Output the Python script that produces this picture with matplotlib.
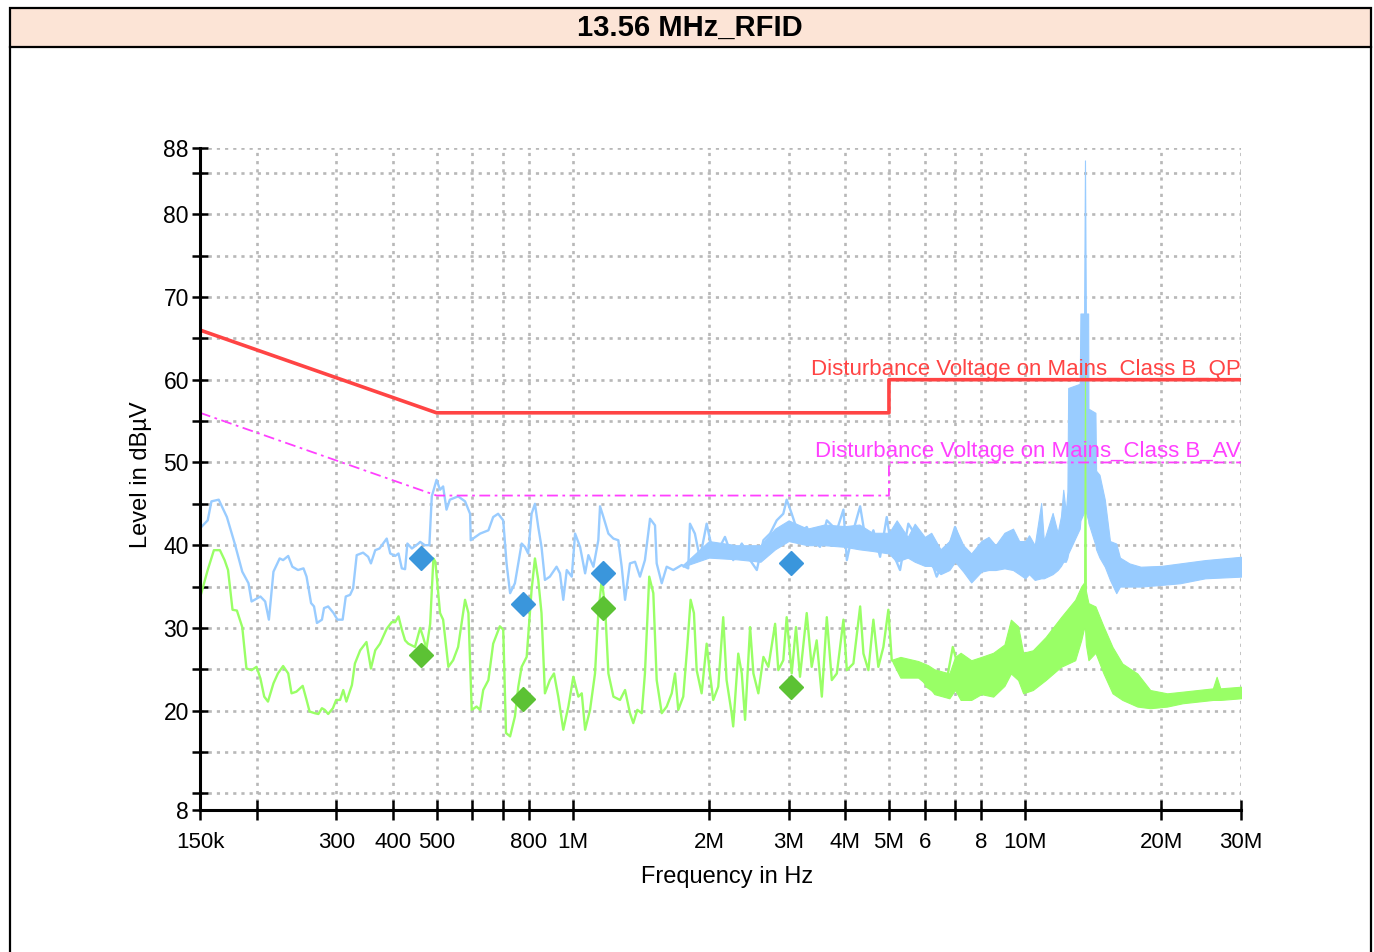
import matplotlib
matplotlib.use("Agg")
import matplotlib.pyplot as plt
from matplotlib.ticker import FixedLocator, FixedFormatter, NullLocator
from matplotlib.patches import Rectangle
from matplotlib.lines import Line2D
import numpy as np

plt.rcParams['font.family'] = ['Liberation Sans', 'DejaVu Sans']

# ---------------- data (frequencies in MHz, levels in dBuV) ----------------
title = "13.56 MHz_RFID"

qp_f = [0.15, 0.5, 5.0, 5.0, 30.0]
qp_v = [66.0, 56.0, 56.0, 60.0, 60.0]
av_f = [0.15, 0.5, 5.0, 5.0, 30.0]
av_v = [56.0, 46.0, 46.0, 50.0, 50.0]

peak_f = [0.151, 0.156, 0.159, 0.165, 0.172, 0.179, 0.186, 0.192, 0.195, 0.204,
          0.209, 0.213, 0.218, 0.225, 0.229, 0.235, 0.240, 0.247, 0.254, 0.258,
          0.264, 0.268, 0.272, 0.279, 0.282, 0.288, 0.296, 0.302, 0.310, 0.315,
          0.322, 0.327, 0.333, 0.344, 0.353, 0.358, 0.366, 0.374, 0.381, 0.388,
          0.395, 0.405, 0.412, 0.419, 0.426, 0.431, 0.441, 0.456, 0.460, 0.471,
          0.482, 0.488, 0.500, 0.509, 0.517, 0.526, 0.535, 0.558, 0.578, 0.593,
          0.595, 0.624, 0.651, 0.667, 0.684, 0.702, 0.714, 0.727, 0.745, 0.758,
          0.771, 0.784, 0.797, 0.811, 0.825, 0.839, 0.853, 0.868, 0.890, 0.921,
          0.937, 0.953, 0.970, 0.995, 1.012, 1.038, 1.065, 1.083, 1.111, 1.139,
          1.149, 1.169, 1.199, 1.230, 1.261, 1.283, 1.305, 1.338, 1.373, 1.408,
          1.444, 1.482, 1.520, 1.533, 1.573, 1.613, 1.668, 1.741, 1.800, 1.816,
          1.862, 1.910, 1.977, 2.028, 2.115, 2.170, 2.263, 2.364, 2.466, 2.552,
          2.639, 2.730, 2.824, 2.920, 2.971, 3.048, 3.152, 3.290, 3.402, 3.520,
          3.644, 3.835, 3.966, 4.035, 4.172, 4.318, 4.467, 4.619, 4.779, 4.944,
          5.071, 5.290, 5.518, 5.757, 6.058, 6.375, 6.711, 7.000, 7.302, 7.621,
          7.799]
peak_v = [42.2, 43.0, 45.3, 45.5, 43.4, 40.2, 36.8, 35.4, 33.2, 33.8,
          33.2, 31.0, 36.8, 38.4, 38.2, 38.7, 37.4, 37.0, 37.2, 36.2,
          33.0, 32.6, 30.6, 31.0, 32.4, 32.6, 31.8, 31.0, 31.0, 33.8,
          34.0, 34.8, 38.8, 39.1, 38.6, 37.8, 39.4, 39.6, 40.2, 40.8,
          39.0, 38.7, 39.0, 37.2, 37.1, 40.2, 39.6, 40.2, 40.4, 40.0,
          40.0, 45.9, 47.9, 46.7, 47.1, 44.3, 45.5, 45.9, 45.3, 43.8,
          40.6, 41.4, 41.8, 43.4, 43.8, 43.0, 37.8, 34.2, 35.4, 37.8,
          40.2, 39.8, 39.0, 43.8, 45.0, 42.2, 39.8, 35.8, 36.2, 37.4,
          36.6, 33.4, 37.0, 36.2, 41.4, 39.8, 36.6, 38.8, 37.4, 40.6,
          44.7, 43.4, 41.4, 40.8, 40.6, 37.4, 33.4, 37.8, 38.0, 36.2,
          38.2, 43.2, 42.4, 37.8, 35.4, 37.4, 37.0, 37.6, 37.2, 42.6,
          41.4, 38.4, 42.6, 39.8, 39.8, 41.0, 38.2, 40.2, 38.2, 37.0,
          40.6, 41.4, 43.0, 43.8, 45.5, 43.8, 41.4, 42.2, 40.6, 39.8,
          43.0, 41.8, 44.3, 38.2, 41.8, 44.7, 39.8, 41.8, 38.6, 43.4,
          39.4, 37.0, 42.6, 41.0, 39.8, 36.2, 39.0, 42.2, 39.0, 35.8,
          37.8]

peak_band_f = [1.75, 2.0, 2.3, 2.6, 2.8, 3.0, 3.3, 3.6, 4.0, 4.3,
               4.6, 5.0, 5.2, 5.5, 5.7, 6.0, 6.2, 6.5, 6.8, 7.0,
               7.3, 7.6, 8.0, 8.3, 8.6, 9.0, 9.4, 9.7, 10.0, 10.2,
               10.5, 10.85, 11.0, 11.5, 11.8, 12.0, 12.14, 12.3, 12.4, 12.45,
               13.2, 13.25, 13.5, 13.56, 13.62, 13.78, 13.8, 14.3, 14.35, 14.6,
               15.0, 15.4, 15.9, 16.2, 17.0, 18.0, 20.0, 22.0, 25.0, 30.0]
peak_band_lo = [37.4, 38.5, 38.3, 38.0, 39.5, 40.5, 40.0, 40.0, 39.8, 39.5,
                39.3, 39.0, 38.0, 38.5, 38.0, 37.5, 37.5, 36.5, 37.0, 38.0,
                36.8, 35.5, 36.8, 37.0, 37.0, 37.2, 37.0, 36.5, 36.0, 36.5,
                35.8, 36.0, 36.0, 36.5, 37.0, 37.5, 38.0, 38.0, 38.5, 39.0,
                42.0, 43.0, 44.0, 44.0, 44.0, 43.0, 42.7, 40.0, 39.5, 38.5,
                37.4, 35.8, 34.2, 35.0, 35.0, 35.0, 35.2, 35.4, 36.0, 36.2]
peak_band_hi = [37.6, 40.5, 40.0, 40.0, 42.0, 43.0, 42.0, 42.5, 42.3, 42.5,
                41.5, 41.5, 43.0, 41.0, 42.6, 41.0, 41.5, 39.5, 40.5, 42.2,
                40.0, 39.0, 40.5, 41.0, 40.0, 41.5, 42.0, 40.5, 40.5, 41.2,
                40.0, 45.1, 40.5, 43.9, 41.5, 43.5, 46.7, 44.0, 46.5, 59.0,
                59.5, 68.0, 68.0, 86.5, 68.0, 68.0, 56.5, 56.0, 49.0, 48.5,
                45.5, 40.5, 40.2, 38.5, 37.8, 37.4, 37.5, 37.8, 38.2, 38.6]

avg_f = [0.151, 0.156, 0.161, 0.166, 0.170, 0.173, 0.177, 0.181, 0.186, 0.190,
         0.195, 0.200, 0.204, 0.208, 0.212, 0.218, 0.223, 0.229, 0.235, 0.239,
         0.245, 0.253, 0.258, 0.262, 0.269, 0.274, 0.279, 0.283, 0.288, 0.295,
         0.300, 0.306, 0.311, 0.316, 0.325, 0.330, 0.339, 0.350, 0.358, 0.366,
         0.375, 0.388, 0.398, 0.405, 0.412, 0.419, 0.426, 0.433, 0.448, 0.460,
         0.467, 0.475, 0.484, 0.492, 0.497, 0.509, 0.517, 0.531, 0.544, 0.558,
         0.578, 0.588, 0.598, 0.613, 0.624, 0.634, 0.651, 0.667, 0.690, 0.702,
         0.712, 0.727, 0.745, 0.758, 0.771, 0.791, 0.811, 0.825, 0.839, 0.853,
         0.868, 0.890, 0.909, 0.929, 0.953, 0.978, 1.003, 1.029, 1.047, 1.065,
         1.092, 1.120, 1.139, 1.159, 1.179, 1.199, 1.230, 1.272, 1.305, 1.338,
         1.361, 1.389, 1.421, 1.444, 1.476, 1.507, 1.533, 1.573, 1.613, 1.655,
         1.683, 1.711, 1.755, 1.791, 1.822, 1.853, 1.879, 1.927, 1.977, 2.010,
         2.044, 2.097, 2.151, 2.188, 2.245, 2.263, 2.322, 2.364, 2.404, 2.466,
         2.508, 2.572, 2.639, 2.707, 2.801, 2.847, 2.920, 2.971, 3.048, 3.115,
         3.179, 3.290, 3.374, 3.461, 3.553, 3.644, 3.738, 3.835, 3.966, 4.035,
         4.172, 4.318, 4.391, 4.503, 4.619, 4.737, 4.860, 4.985, 5.071, 5.290,
         5.520, 5.760, 6.060, 6.380, 6.710, 6.920, 7.180, 7.550, 7.800]
avg_v = [34.2, 37.0, 39.4, 39.4, 38.2, 37.0, 32.2, 32.1, 30.1, 25.1,
         24.9, 25.3, 23.9, 21.7, 21.1, 23.3, 24.5, 25.4, 24.5, 22.1,
         22.3, 23.0, 21.3, 19.9, 19.7, 19.6, 20.3, 20.1, 19.6, 20.3,
         21.3, 21.3, 22.5, 21.1, 23.1, 25.7, 27.3, 28.3, 25.1, 27.3,
         28.1, 29.9, 30.7, 30.7, 31.4, 29.8, 28.5, 28.1, 27.7, 30.0,
         28.9, 27.5, 30.5, 38.4, 38.0, 31.8, 31.0, 25.3, 26.1, 27.7,
         33.4, 31.8, 20.1, 20.5, 20.1, 22.5, 23.7, 28.1, 30.2, 29.8,
         17.3, 16.9, 19.3, 22.9, 25.3, 26.5, 34.6, 38.4, 35.8, 31.8,
         22.1, 23.7, 24.5, 21.7, 17.7, 20.5, 24.1, 21.7, 22.1, 17.7,
         20.1, 24.5, 31.8, 35.8, 32.6, 24.5, 21.7, 21.3, 22.5, 19.7,
         18.5, 20.1, 19.7, 24.5, 36.2, 34.2, 23.7, 19.7, 20.5, 22.1,
         24.5, 20.1, 21.7, 27.7, 33.4, 31.8, 24.9, 22.1, 28.1, 24.5,
         21.3, 22.9, 31.3, 23.7, 19.7, 18.1, 26.9, 24.5, 18.9, 30.1,
         24.5, 22.1, 26.5, 25.3, 30.5, 24.9, 26.1, 31.3, 24.5, 30.1,
         24.1, 31.8, 25.3, 28.5, 21.7, 31.3, 23.7, 24.5, 31.0, 24.9,
         25.7, 32.6, 26.9, 24.9, 31.0, 25.3, 27.7, 32.2, 26.1, 25.3,
         24.1, 25.3, 22.9, 22.1, 23.7, 27.7, 24.5, 21.3, 25.3]

avg_band_f = [5.1, 5.3, 5.8, 6.1, 6.3, 6.8, 7.0, 7.2, 7.6, 8.0,
              8.5, 9.0, 9.3, 9.65, 9.9, 10.4, 11.1, 12.0, 12.9, 13.3,
              13.5, 13.56, 13.62, 13.8, 14.3, 14.9, 15.6, 16.4, 17.7, 18.9,
              20.6, 22.3, 26.0, 26.5, 27.0, 30.0]
avg_band_lo = [25.8, 24.0, 24.0, 23.0, 22.0, 21.5, 22.5, 21.3, 21.3, 22.0,
               21.7, 23.0, 24.5, 23.7, 22.1, 22.5, 23.7, 25.3, 26.1, 28.5,
               30.0, 30.0, 28.0, 26.1, 27.0, 24.5, 22.1, 21.3, 20.5, 20.3,
               20.5, 20.9, 21.3, 21.3, 21.3, 21.5]
avg_band_hi = [26.2, 26.5, 26.0, 25.5, 25.0, 24.5, 26.5, 27.0, 26.1, 26.5,
               27.0, 28.0, 31.0, 30.2, 27.0, 27.3, 28.9, 31.3, 33.4, 35.0,
               35.5, 60.5, 34.5, 33.0, 32.6, 30.2, 27.7, 25.7, 24.5, 22.5,
               22.1, 22.3, 22.7, 24.1, 22.7, 22.9]

final_f = [0.462, 0.776, 1.167, 3.04]
final_qp = [38.45, 32.9, 36.6, 37.85]
final_av = [26.7, 21.4, 32.4, 22.9]

xtick_f = [0.15, 0.2, 0.3, 0.4, 0.5, 0.6, 0.7, 0.8, 1, 2, 3, 4, 5, 6, 7, 8, 10, 20, 30]
xtick_labels = ['150k', '', '300', '400', '500', '', '', '800', '1M', '2M', '3M',
                '4M', '5M', '6', '', '8', '10M', '20M', '30M']
ytick_v = [8, 10, 15, 20, 25, 30, 35, 40, 45, 50, 55, 60, 65, 70, 75, 80, 85, 88]
ytick_labels = ['8', '', '', '20', '', '30', '', '40', '', '50', '', '60', '',
                '70', '', '80', '', '88']

qp_label = "Disturbance Voltage on Mains_Class B_QP"
av_label = "Disturbance Voltage on Mains_Class B_AV"

# ---------------- styling ----------------
C_PEAK = '#99ccff'
C_AVG = '#99ff66'
C_QP = '#ff4444'
C_AV = '#ff40ff'
C_MQP = '#3a96dc'
C_MAV = '#5cc234'

W, H = 1374, 952
fig = plt.figure(figsize=(W / 100, H / 100), dpi=100)


def fx(px):
    return px / W


def fy(py):
    return 1 - py / H


# outer frame and title bar
fig.add_artist(Rectangle((fx(10), fy(47)), fx(1371) - fx(10), fy(8) - fy(47),
                         transform=fig.transFigure, facecolor='#fce4d6',
                         edgecolor='black', linewidth=1.6))
fig.add_artist(Line2D([fx(10), fx(10)], [fy(47), 0], transform=fig.transFigure,
                      color='black', linewidth=1.6))
fig.add_artist(Line2D([fx(1371), fx(1371)], [fy(47), 0], transform=fig.transFigure,
                      color='black', linewidth=1.6))
fig.text(fx(690), fy(28), title, ha='center', va='center', fontsize=21,
         fontweight='bold', color='black')

ax = fig.add_axes([fx(200), fy(810), fx(1241) - fx(200), fy(148) - fy(810)])

hz = lambda arr: np.asarray(arr) * 1e6

# traces
ax.fill_between(hz(peak_band_f), peak_band_lo, peak_band_hi, color=C_PEAK,
                linewidth=0.8, edgecolor=C_PEAK, zorder=2)
ax.plot(hz(peak_f), peak_v, color=C_PEAK, linewidth=1.7, zorder=2)
ax.fill_between(hz(avg_band_f), avg_band_lo, avg_band_hi, color=C_AVG,
                linewidth=0.8, edgecolor=C_AVG, zorder=3)
ax.plot(hz(avg_f), avg_v, color=C_AVG, linewidth=1.7, zorder=3)

# limit lines
ax.plot(hz(qp_f), qp_v, color=C_QP, linewidth=2.6, zorder=4)
ax.plot(hz(av_f), av_v, color=C_AV, linewidth=1.3,
        linestyle=(0, (6, 2.5, 1.5, 2.5)), zorder=4)
ax.text(30e6, 60.55, qp_label, color=C_QP, fontsize=16, ha='right',
        va='baseline', zorder=5)
ax.text(30e6, 50.6, av_label, color=C_AV, fontsize=16, ha='right',
        va='baseline', zorder=5)

# final measurement markers
ax.plot(hz(final_f), final_qp, linestyle='none', marker='D', markersize=12,
        color=C_MQP, zorder=6)
ax.plot(hz(final_f), final_av, linestyle='none', marker='D', markersize=12,
        color=C_MAV, zorder=6)

# axes
ax.set_xscale('log')
ax.set_xlim(0.15e6, 30e6)
ax.set_ylim(8, 88)
ax.xaxis.set_major_locator(FixedLocator(hz(xtick_f)))
ax.xaxis.set_major_formatter(FixedFormatter(xtick_labels))
ax.xaxis.set_minor_locator(NullLocator())
ax.yaxis.set_major_locator(FixedLocator(ytick_v))
ax.yaxis.set_major_formatter(FixedFormatter(ytick_labels))
ax.yaxis.set_minor_locator(NullLocator())

for s in ['top', 'right']:
    ax.spines[s].set_visible(False)
for s in ['left', 'bottom']:
    ax.spines[s].set_linewidth(2.2)
    ax.spines[s].set_zorder(7)

ax.tick_params(axis='x', direction='inout', length=15, width=1.8, pad=8.5,
               labelsize=16)
ax.tick_params(axis='y', direction='inout', length=12, width=1.8, pad=2,
               labelsize=16.5)

ax.set_axisbelow(True)
ax.grid(True, which='major', color='#b8b8b8', linewidth=1.9,
        linestyle=(0, (1.2, 1.9)))

ax.set_xlabel('Frequency in Hz', fontsize=17)
ax.xaxis.set_label_coords((727 - 200) / 1041, -(877 - 810) / 662)
ax.xaxis.label.set_verticalalignment('center')
ax.set_ylabel('Level in dBµV', fontsize=17)
ax.yaxis.set_label_coords((141 - 200) / 1041, (810 - 475) / 662)
ax.yaxis.label.set_verticalalignment('center')

fig.savefig('out.png', dpi=100)
